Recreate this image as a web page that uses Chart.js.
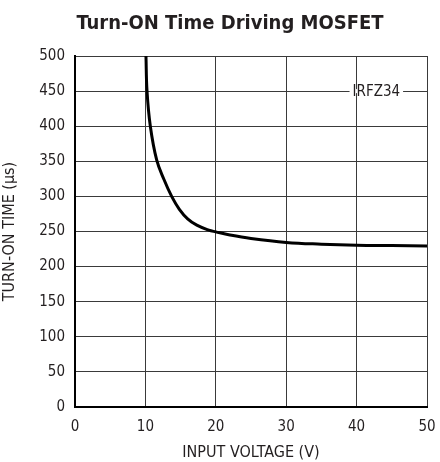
<!DOCTYPE html>
<html>
<head>
<meta charset="utf-8">
<script src="https://cdn.jsdelivr.net/npm/chart.js@4/dist/chart.umd.min.js"></script>
<style>
  html, body { margin: 0; padding: 0; background: #fff; }
  #wrap { width: 440px; height: 462px; }
</style>
</head>
<body>
<div id="wrap"><canvas id="chart"></canvas></div>
<script>
// values
const voltage = [10.08, 10.23, 10.7, 11.6, 12.64, 13.73, 14.8, 16, 17.3, 19, 20, 22, 25, 30, 35, 40, 45, 50];
const turnOnTime = [500, 450, 400, 352, 324, 300, 282, 268, 259, 252, 249.5, 245, 240, 234.5, 232, 230.5, 230, 229.5];
const xTicks = [0, 10, 20, 30, 40, 50];
const yTicks = [0, 50, 100, 150, 200, 250, 300, 350, 400, 450, 500];
const titleText = 'Turn-ON Time Driving MOSFET';
const curveLabel = 'IRFZ34';
const labelAt = { x: 42.8, y: 450 };

const FONT = "'Liberation Sans Narrow', 'DejaVu Sans Condensed', 'Liberation Sans', sans-serif";

// title + curve label, drawn on the canvas
const textPlugin = {
  id: 'texts',
  afterDraw(chart) {
    const ctx = chart.ctx;
    const xs = chart.scales.x, ys = chart.scales.y;
    ctx.save();
    ctx.fillStyle = '#231f20';
    ctx.textAlign = 'center';
    ctx.textBaseline = 'middle';
    ctx.font = 'bold 20px ' + FONT;
    ctx.fillText(titleText, 230, 24);

    ctx.font = '15px ' + FONT;
    const px = xs.getPixelForValue(labelAt.x);
    const py = ys.getPixelForValue(labelAt.y);
    const w = ctx.measureText(curveLabel).width;
    ctx.fillStyle = '#fff';
    ctx.fillRect(px - w / 2 - 3, py - 2, w + 6, 4);
    ctx.fillStyle = '#231f20';
    ctx.fillText(curveLabel, px, py + 1);
    ctx.restore();
  }
};

new Chart(document.getElementById('chart'), {
  type: 'line',
  data: {
    datasets: [{
      data: voltage.map((v, i) => ({ x: v, y: turnOnTime[i] })),
      borderColor: '#000',
      borderWidth: 3,
      pointRadius: 0,
      tension: 0.4,
      fill: false
    }]
  },
  options: {
    responsive: true,
    maintainAspectRatio: false,
    animation: false,
    layout: { padding: { top: 56, right: 13, left: 0, bottom: 0 } },
    plugins: {
      legend: { display: false },
      tooltip: { enabled: false }
    },
    scales: {
      x: {
        type: 'linear',
        min: 0, max: 50,
        afterBuildTicks: s => { s.ticks = xTicks.map(v => ({ value: v })); },
        afterFit: s => { s.height = 55; s.paddingRight = 0; },
        grid: { color: '#3a3a3a', lineWidth: 1, drawTicks: false },
        border: { color: '#000', width: 2 },
        ticks: { color: '#231f20', font: { family: FONT, size: 15 }, padding: 11, maxRotation: 0 },
        title: { display: true, text: 'INPUT VOLTAGE (V)', color: '#231f20', font: { family: FONT, size: 16 }, padding: { top: 2, bottom: 0 } }
      },
      y: {
        min: 0, max: 500,
        afterBuildTicks: s => { s.ticks = yTicks.map(v => ({ value: v })); },
        afterFit: s => { s.width = 75; },
        grid: { color: '#3a3a3a', lineWidth: 1, drawTicks: false },
        border: { color: '#000', width: 2 },
        ticks: { color: '#231f20', font: { family: FONT, size: 15 }, padding: 10 },
        title: { display: true, text: 'TURN-ON TIME (µs)', color: '#231f20', font: { family: FONT, size: 16 }, padding: { top: 0, bottom: 4 } }
      }
    }
  },
  plugins: [textPlugin]
});
</script>
</body>
</html>
